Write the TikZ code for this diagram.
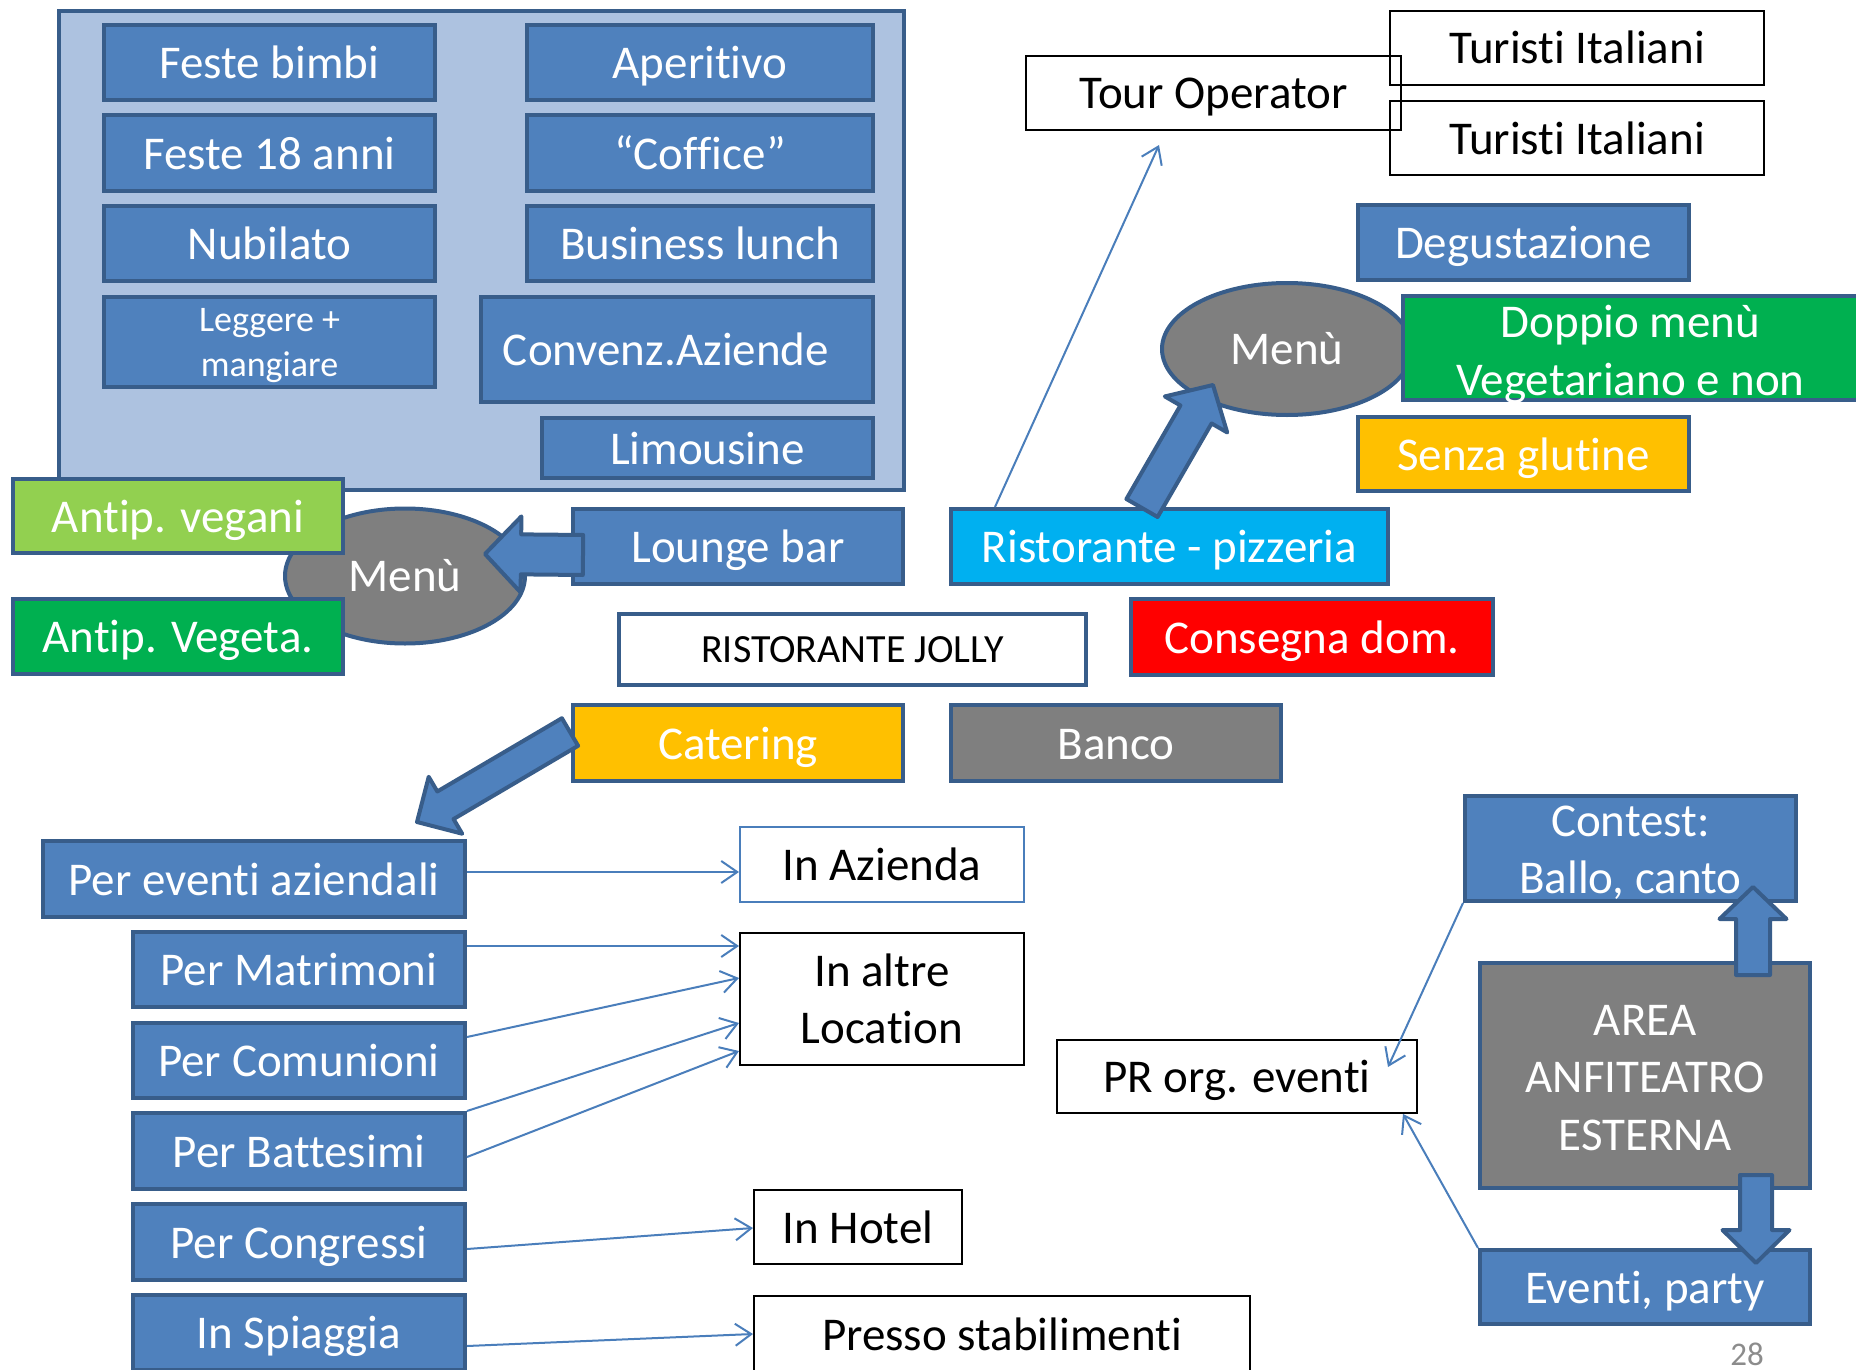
\documentclass[tikz,border=0pt]{standalone}
\usepackage{fontspec}
\setmainfont{Carlito}[Ligatures=NoCommon]
\usetikzlibrary{calc,shapes.geometric,arrows.meta}
\definecolor{ofblue}{HTML}{4F81BD}
\definecolor{bdr}{HTML}{385D8A}
\definecolor{panelc}{HTML}{ADC2E0}
\definecolor{lgreen}{HTML}{92D050}
\definecolor{dgreen}{HTML}{00B050}
\definecolor{cyanc}{HTML}{00B0F0}
\definecolor{yel}{HTML}{FFC000}
\definecolor{grayc}{HTML}{7F7F7F}
\definecolor{redc}{HTML}{FF0000}
\definecolor{linec}{HTML}{4A7EBB}
\definecolor{pagec}{HTML}{8C8C8C}
\newcommand\fmain{\fontsize{47}{57.5}\selectfont}
\newcommand\fsmall{\fontsize{36}{45}\selectfont}
\newcommand\fjolly{\fontsize{40}{48}\selectfont}
\newcommand\bx[7]{\node[#2, minimum width={#5-#3-4}, minimum height={#6-#4-4}] (#1) at ({(#3+#5)/2},{(#4+#6)/2}) {#7};}
% box with a separately placed (shifted) multi-line text
\newcommand\bxt[8]{\node[#2, minimum width={#5-#3-4}, minimum height={#6-#4-4}] (#1) at ({(#3+#5)/2},{(#4+#6)/2}) {};
  \node[#2, draw=none, fill=none, multi, minimum width=0pt, minimum height=0pt] (#1t) at ($(#1.center)+(0,#7)$) {#8};}
\newcommand\blockarr[6]{%
  \coordinate (#1h) at ($(#3)!#6!(#2)$);
  \draw[barrow] ($(#2)!#4!90:(#3)$) -- ($(#1h)!#4!90:(#3)$) -- ($(#1h)!#5!90:(#3)$) -- (#3)
    -- ($(#1h)!#5!-90:(#3)$) -- ($(#1h)!#4!-90:(#3)$) -- ($(#2)!#4!-90:(#3)$) -- cycle;}
\tikzset{
 base/.style={rectangle, line width=4pt, draw=bdr, inner sep=0pt, align=center, font=\fmain, text=white, text height=38pt, text depth=6pt},
 multi/.style={text height=, text depth=},
 bluebox/.style={base, fill=ofblue},
 lgbox/.style={base, fill=lgreen},
 dgbox/.style={base, fill=dgreen},
 cybox/.style={base, fill=cyanc},
 yebox/.style={base, fill=yel},
 grbox/.style={base, fill=grayc},
 rdbox/.style={base, fill=redc},
 panelbox/.style={base, fill=panelc},
 jollybox/.style={base, fill=white, text=black, font=\fjolly, text height=32pt, text depth=6pt},
 thinbox/.style={rectangle, line width=2pt, draw=black, inner sep=0pt, align=center, font=\fmain, text=black, text height=38pt, text depth=6pt},
 thinblue/.style={thinbox, draw=linec},
 menuell/.style={ellipse, line width=4pt, draw=bdr, fill=grayc, inner sep=0pt, font=\fmain, text=white},
 conn/.style={draw=linec, line width=2pt, -{Straight Barb[length=16pt,width=22pt]}},
 barrow/.style={fill=ofblue, draw=bdr, line width=4pt, line join=round},
}
\begin{document}
\begin{tikzpicture}[x=1pt,y=-1pt]
\useasboundingbox (0,0) rectangle (1856,1370);
\clip (0,0) rectangle (1856,1370);
% top-left panel
\bx{panel}{panelbox}{57}{9}{906}{492}{}
\bx{feste}{bluebox}{102}{23}{437}{102}{Feste bimbi}
\bx{feste18}{bluebox}{102}{113}{437}{193}{Feste 18 anni}
\bx{nubil}{bluebox}{102}{204}{437}{283}{Nubilato}
\bxt{legg}{bluebox,font=\fsmall}{102}{295}{437}{389}{4}{Leggere +\\mangiare}
\bx{aper}{bluebox}{525}{23}{875}{102}{Aperitivo}
\bx{coff}{bluebox}{525}{113}{875}{193}{“Coffice”}
\bx{busin}{bluebox}{525}{204}{875}{283}{Business lunch}
\bx{conv}{bluebox}{479}{295}{875}{404}{\hspace*{-22pt}Convenz.Aziende}
\bx{limo}{bluebox}{540}{416}{875}{480}{Limousine}
% left menu
\node[menuell, minimum width=240pt, minimum height=135pt] (menuL) at (405,576) {Menù};
\bx{vegani}{lgbox}{11}{477}{345}{555}{Antip. vegani}
\bx{vegeta}{dgbox}{11}{597}{345}{676}{Antip. Vegeta.}
\bx{lounge}{bluebox}{571}{507}{905}{586}{Lounge bar}
\coordinate (la1) at ($(lounge.west)+(12,8.5)$);
\coordinate (la2) at ($(menuL.center)+(80,-22)$);
\blockarr{la}{la1}{la2}{20pt}{38pt}{36pt}
% centre
\bx{jolly}{jollybox}{617}{612}{1088}{687}{RISTORANTE JOLLY}
\bx{cater}{yebox}{571}{703}{905}{783}{Catering}
\bx{banco}{grbox}{949}{703}{1283}{783}{Banco}
\bx{conseg}{rdbox}{1129}{597}{1495}{677}{Consegna dom.}
% top right
\bx{tourop}{thinbox}{1024}{54}{1403}{132}{Tour Operator}
\bx{turA}{thinbox}{1388}{9}{1766}{87}{Turisti Italiani}
\bx{turB}{thinbox}{1388}{99}{1766}{177}{Turisti Italiani}
\bx{degus}{bluebox}{1356}{203}{1691}{282}{Degustazione}
\node[menuell, minimum width=250pt, minimum height=132pt] (menuR) at (1287,349) {Menù};
\bxt{doppio}{dgbox}{1401}{294}{1860}{402}{6.5}{Doppio menù\\Vegetariano e non}
\bx{senza}{yebox}{1356}{415}{1691}{493}{Senza glutine}
\bx{risto}{cybox}{949}{507}{1390}{586}{Ristorante - pizzeria}
\coordinate (ra1) at ($(risto.north)+(-27.5,1)$);
\coordinate (ra2) at ($(menuR.center)+(-74,36)$);
\blockarr{ra}{ra1}{ra2}{18pt}{36pt}{34pt}
\draw[conn] ($(risto.north west)+(46,0)$) -- ($(tourop.south)+(-54.5,14)$);
% catering arrow and lower left
\bx{pe}{bluebox}{41}{839}{467}{919}{Per eventi aziendali}
\bx{matr}{bluebox}{131}{930}{467}{1009}{Per Matrimoni}
\bx{comun}{bluebox}{131}{1021}{467}{1100}{Per Comunioni}
\bx{batt}{bluebox}{131}{1111}{467}{1191}{Per Battesimi}
\bx{congr}{bluebox}{131}{1202}{467}{1282}{Per Congressi}
\bx{spiag}{bluebox}{131}{1293}{467}{1372}{In Spiaggia}
\coordinate (ca1) at ($(cater.west)+(-1,-11)$);
\coordinate (ca2) at ($(pe.north east)+(-50,-17)$);
\blockarr{ca}{ca1}{ca2}{16pt}{33pt}{33pt}
\bx{inaz}{thinblue}{738}{825}{1026}{904}{In Azienda}
\bx{altre}{thinbox,multi}{738}{931}{1026}{1067}{In altre\\Location}
\bx{hotel}{thinbox}{752}{1188}{964}{1266}{In Hotel}
\bx{presso}{thinbox}{752}{1294}{1252}{1374}{Presso stabilimenti}
\draw[conn] ($(pe.east)+(0,-7)$) -- ($(inaz.west)+(0,7.5)$);
\draw[conn] ($(matr.east)+(0,-23.5)$) -- ($(altre.west)+(0,-53)$);
\draw[conn] ($(comun.east)+(0,-23.5)$) -- ($(altre.west)+(0,-21)$);
\draw[conn] (batt.north east) -- ($(altre.west)+(0,24)$);
\draw[conn] ($(batt.east)+(0,6)$) -- ($(altre.west)+(0,52)$);
\draw[conn] ($(congr.east)+(0,7)$) -- ($(hotel.west)+(0,1)$);
\draw[conn] ($(spiag.east)+(0,13.5)$) -- (presso.west);
% lower right
\bx{pr}{thinbox}{1055}{1038}{1419}{1115}{PR org. eventi}
\bxt{contest}{bluebox}{1463}{794}{1798}{903}{4}{Contest:\\Ballo, canto}
\bxt{area}{grbox}{1478}{961}{1812}{1190}{2.5}{AREA\\ANFITEATRO\\ESTERNA}
\bx{eventi}{bluebox}{1478}{1248}{1812}{1326}{Eventi, party}
\coordinate (ua1) at ($(area.north east)+(-59,14)$);
\coordinate (ua2) at ($(contest.south east)+(-45,-16)$);
\blockarr{ua}{ua1}{ua2}{17pt}{33.5pt}{32pt}
\coordinate (da1) at ($(area.south east)+(-56,-15)$);
\coordinate (da2) at ($(eventi.north east)+(-56,15)$);
\blockarr{da}{da1}{da2}{16pt}{33.5pt}{33pt}
\draw[conn] (contest.south west) -- ($(pr.north east)+(-30,28)$);
\draw[conn] (eventi.north west) -- ($(pr.south east)+(-15,0)$);
\node[font=\fontsize{33}{40}\selectfont, text=pagec, inner sep=0pt] (pg) at (1747,1354) {28};
\end{tikzpicture}
\end{document}
